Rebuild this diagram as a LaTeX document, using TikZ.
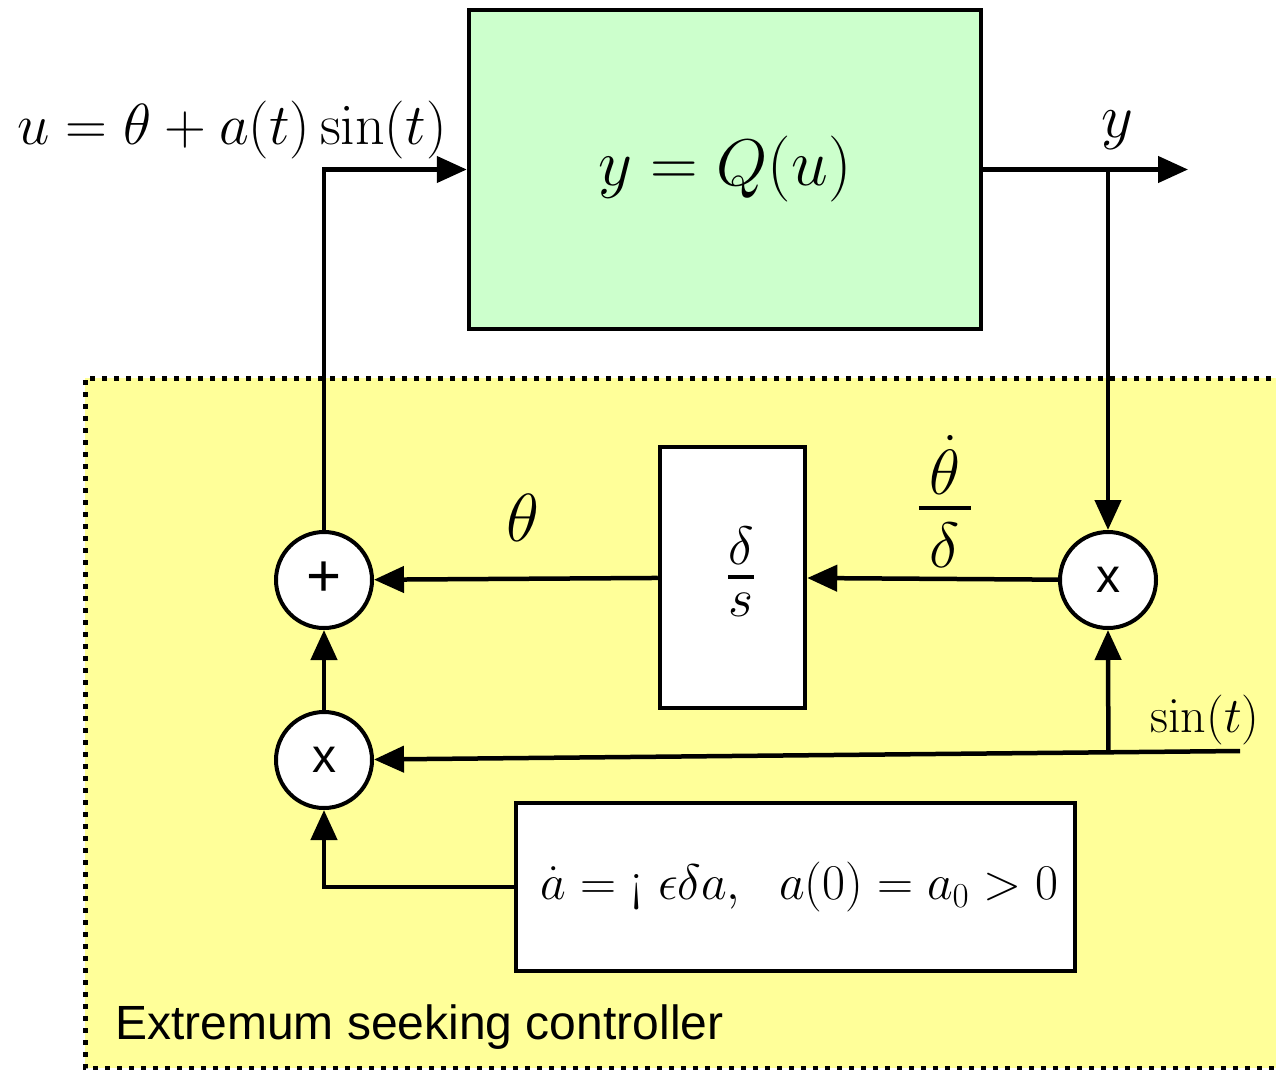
\RequirePackage{fix-cm}
\documentclass[tikz,border=0pt]{standalone}
\usepackage{amsmath}
\usepackage{exscale}
\usepackage[no-math]{fontspec}
\usetikzlibrary{arrows.meta,calc}
\newfontfamily\arialfont{Liberation Sans}
\definecolor{plantgreen}{HTML}{CCFFCC}
\definecolor{escyellow}{HTML}{FFFF99}
\newcommand{\fsz}[1]{\fontsize{#1}{#1}\selectfont}
\newcommand{\glitch}{\mathord{\mathchar"003C}}
\begin{document}
\begin{tikzpicture}[x=1pt,y=-1pt,line width=4.5pt,
  arr/.style={-{Triangle[length=30pt,width=26pt]}},
  block/.style={draw,line width=4.5pt,fill=white,inner sep=0pt},
  junction/.style={circle,draw,fill=white,line width=4pt,minimum size=96pt,inner sep=0pt},
  lbl/.style={inner sep=0pt}]
\useasboundingbox (0,0) rectangle (1276,1070);
% controller region
\fill[escyellow] (85,378) rectangle (1295,1068);
\draw[line width=5pt,dash pattern=on 5pt off 7pt] (1295,378) -- (85,378) -- (85,1068) -- (1295,1068);
% blocks
\node[block,fill=plantgreen,minimum width=512pt,minimum height=319pt,font=\fsz{66}] (plant) at (725,169.5) {$y = Q(u)$};
\node[block,minimum width=145pt,minimum height=261pt] (integ) at (732.5,577.5) {};
\node[lbl,anchor=base,font=\fsz{54}] (integtxt) at (741,590.5) {$\genfrac{}{}{3.5pt}{0}{\raisebox{-12pt}{$\delta$}}{\raisebox{11pt}{$s$}}$};
\node[block,minimum width=559pt,minimum height=168pt,font=\fsz{50}] (ode) at (795.5,887) {\hspace*{8pt}$\dot a = \glitch\ \epsilon\delta a,\ \ a(0) = a_0 > 0$};
\node[junction,font=\arialfont\fsz{60}] (sum) at (324,580) {\raisebox{2pt}{+}};
\node[junction,font=\arialfont\fsz{48}] (m1) at (1108,580) {\raisebox{-4pt}{x}};
\node[junction,font=\arialfont\fsz{48}] (m2) at (324,760) {\raisebox{-4pt}{x}};
% coordinates
\coordinate (yout) at (1188,169.5);
\coordinate (ytap) at (1108,169.5);
\coordinate (sinR) at (1240,751);
\coordinate (sinTap) at ($(sinR)!0.152!(m2.east)$);
% connectors
\draw[arr] (sum.north) |- (plant.west);
\draw[arr] (plant.east) -- (yout);
\draw[arr] (ytap) -- (m1.north);
\draw[arr] (m1) -- (integ);
\draw[arr] (integ) -- (sum);
\draw[arr] (m2) -- (sum);
\draw[arr] (sinR) -- (m2);
\draw[arr] (sinTap) -- (m1.south);
\draw[arr] (ode.west) -| (m2.south);
% labels
\node[lbl,font=\fsz{58}] (ulbl) at (232,130) {$u = \theta + a(t)\sin(t)$};
\node[lbl,font=\fsz{62}] (ylbl) at (1117,130) {$y$};
\node[lbl,font=\fsz{68}] (thlbl) at (523,518) {$\theta$};
\node[lbl,anchor=base,font=\fsz{64}] (thdlbl) at (945,524) {$\genfrac{}{}{4pt}{0}{\,\raisebox{-14pt}{$\dot\theta$}\,}{\,\delta\,}$};
\node[lbl,font=\fsz{50}] (sinlbl) at (1205,720) {$\sin(t)$};
\node[lbl,anchor=west,font=\arialfont\fsz{48}] (esc) at (113,1027) {Extremum seeking controller};
\end{tikzpicture}
\end{document}
